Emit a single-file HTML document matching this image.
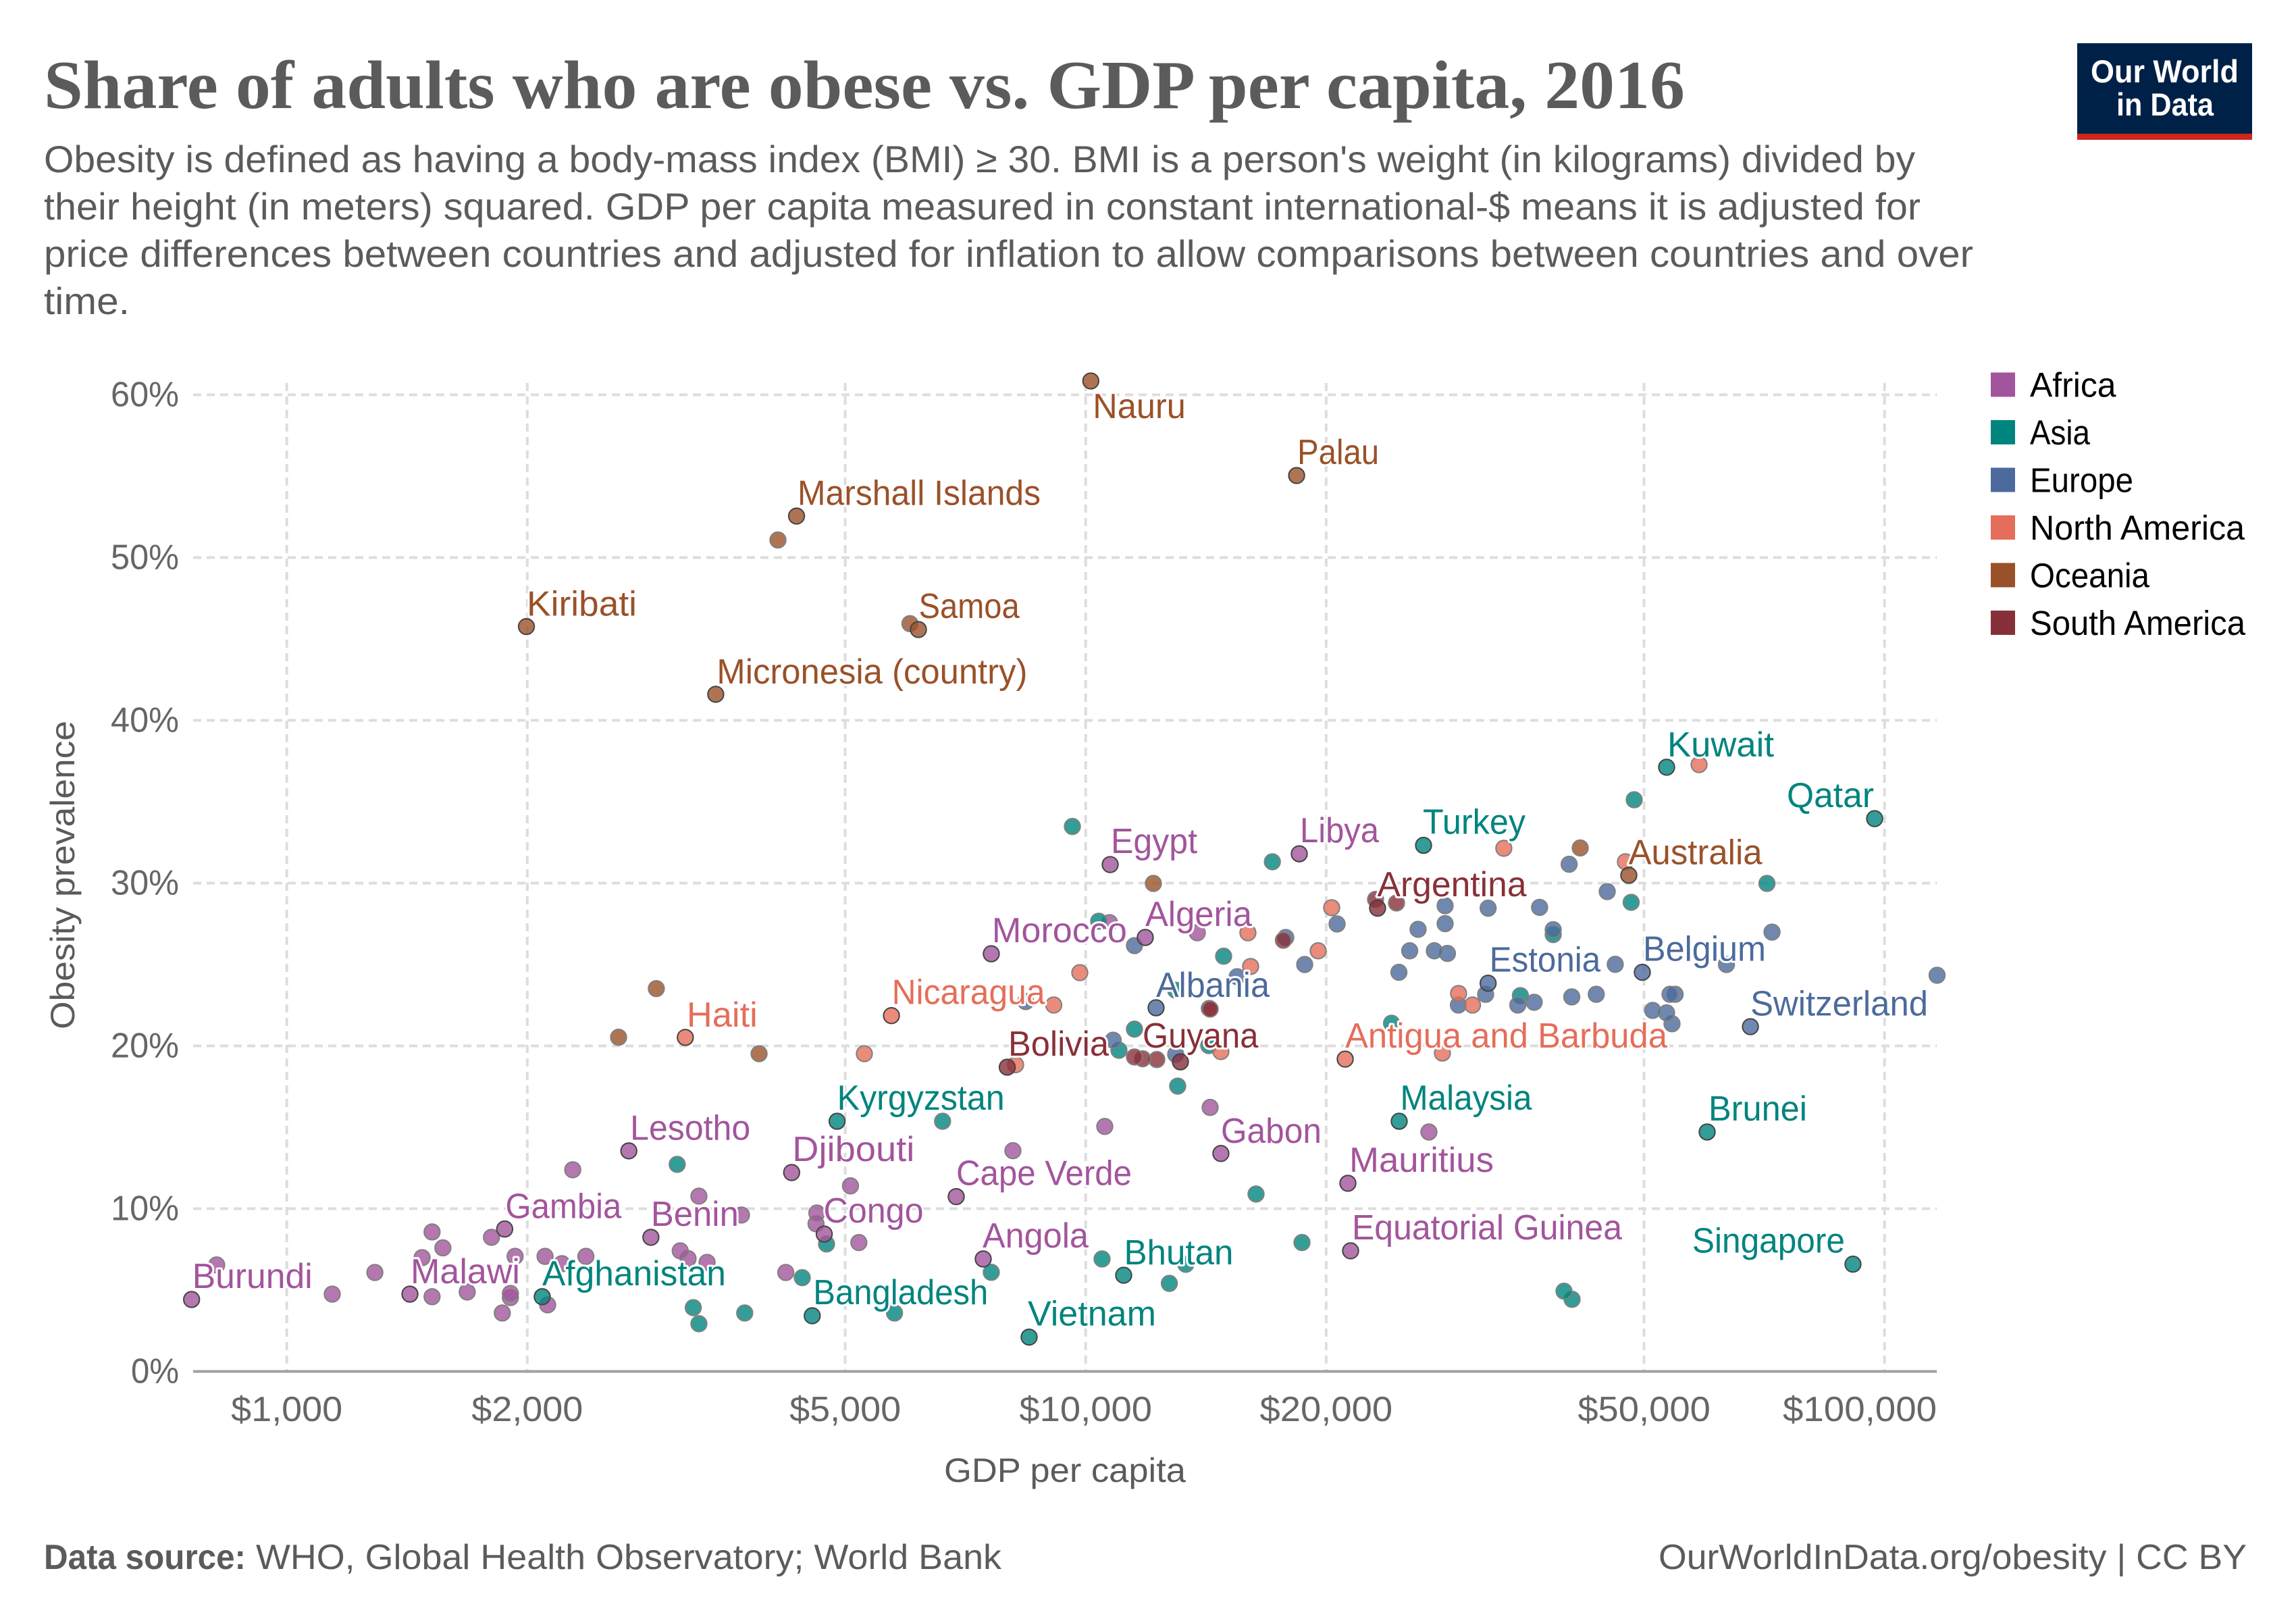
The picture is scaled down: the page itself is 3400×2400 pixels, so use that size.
<!DOCTYPE html>
<html lang="en">
<head>
<meta charset="utf-8">
<title>Share of adults who are obese vs. GDP per capita, 2016</title>
<style>
html,body{margin:0;padding:0;background:#fff;}
svg{display:block;}
text{font-family:"Liberation Sans",sans-serif;}
.title{font-family:"Liberation Serif",serif;font-weight:700;font-size:102px;fill:#5b5b5b;}
.sub{font-size:56px;fill:#5b5b5b;}
.foot{font-size:52px;fill:#5b5b5b;}
.axis-title{font-size:50px;fill:#5b5b5b;}
.tick{font-size:52px;fill:#666;}
.legend-text{font-size:51px;fill:#000;}
.label{font-size:52px;stroke:#fff;stroke-width:6px;paint-order:stroke;stroke-linejoin:round;}
</style>
</head>
<body>
<svg id="chart" xmlns="http://www.w3.org/2000/svg" width="3400" height="2400" viewBox="0 0 3400 2400">
  <rect x="0" y="0" width="3400" height="2400" fill="#fff"/>
  <text class="title" x="65" y="160" textLength="2430" lengthAdjust="spacingAndGlyphs">Share of adults who are obese vs. GDP per capita, 2016</text>
  <g>
    <text class="sub" x="65" y="255" textLength="2771" lengthAdjust="spacingAndGlyphs">Obesity is defined as having a body-mass index (BMI) ≥ 30. BMI is a person's weight (in kilograms) divided by</text>
    <text class="sub" x="65" y="325" textLength="2779" lengthAdjust="spacingAndGlyphs">their height (in meters) squared. GDP per capita measured in constant international-$ means it is adjusted for</text>
    <text class="sub" x="65" y="395" textLength="2857" lengthAdjust="spacingAndGlyphs">price differences between countries and adjusted for inflation to allow comparisons between countries and over</text>
    <text class="sub" x="65" y="465" textLength="127" lengthAdjust="spacingAndGlyphs">time.</text>
  </g>
  <g>
    <rect x="3076" y="64" width="259" height="134" fill="#002147"/>
    <rect x="3076" y="198" width="259" height="9" fill="#ce261e"/>
    <text x="3096" y="122" textLength="219" lengthAdjust="spacingAndGlyphs" font-size="47" font-weight="700" fill="#fff">Our World</text>
    <text x="3134" y="171" textLength="144" lengthAdjust="spacingAndGlyphs" font-size="47" font-weight="700" fill="#fff">in Data</text>
  </g>
  <g id="grid"></g>
  <g id="axes"></g>
  <text class="axis-title" x="1398" y="2194" textLength="358" lengthAdjust="spacingAndGlyphs">GDP per capita</text>
  <text class="axis-title" transform="translate(110,1524) rotate(-90)" textLength="457" lengthAdjust="spacingAndGlyphs">Obesity prevalence</text>
  <g id="points"></g>
  <g id="labels"></g>
  <g id="legend"></g>
  <g>
    <text class="foot" x="65" y="2323" textLength="299" lengthAdjust="spacingAndGlyphs" font-weight="700">Data source:</text>
    <text class="foot" x="379" y="2323" textLength="1104" lengthAdjust="spacingAndGlyphs">WHO, Global Health Observatory; World Bank</text>
    <text class="foot" x="2456" y="2323" textLength="871" lengthAdjust="spacingAndGlyphs">OurWorldInData.org/obesity | CC BY</text>
  </g>
</svg>
<script>
// ---- axis tick data ----
const yTickValues = [0, 10, 20, 30, 40, 50, 60];
const xTickValues = [1000, 2000, 5000, 10000, 20000, 50000, 100000];
const xTickLabels = ['$1,000', '$2,000', '$5,000', '$10,000', '$20,000', '$50,000', '$100,000'];

// ---- legend ----
const regionNames = ['Africa', 'Asia', 'Europe', 'North America', 'Oceania', 'South America'];
const regionColors = ['#A2559C', '#00847E', '#4C6A9C', '#E56E5A', '#9A5129', '#883039'];

// ---- series: GDP per capita ($) and obesity (%). Labelled countries come first, in the order of the names array ----
const africaNames = ['Burundi','Malawi','Gambia','Lesotho','Benin','Djibouti','Congo','Cape Verde','Angola','Gabon','Mauritius','Equatorial Guinea','Egypt','Libya','Algeria','Morocco'];
const africaGdp = [760,1426,1874,2680,2856,4285,4707,6886,7443,14766,21294,21459,10732,18509,11874,7618,
  817,1140,1289,1520,1477,1520,1568,1682,1804,1861,1905,1905,1931,2105,2121,2210,2368,2280,3280,3708,3108,3179,3358,4213,5077,4608,4597,5201,8108,10566,14315,26895,13795,10711];
const africaObesity = [4.42,4.75,8.75,13.55,8.24,12.22,8.44,10.74,6.91,13.39,11.56,7.41,31.14,31.80,26.66,25.66,
  6.54,4.75,6.08,4.59,6.99,8.57,7.59,4.88,8.24,3.59,4.79,4.54,7.07,7.07,4.09,6.62,7.07,12.39,10.77,9.61,7.41,6.93,6.70,6.08,11.40,9.73,9.07,7.92,13.56,15.05,16.22,14.71,26.95,27.57];

const asiaNames = ['Afghanistan','Kyrgyzstan','Bangladesh','Vietnam','Bhutan','Malaysia','Brunei','Singapore','Turkey','Kuwait','Qatar'];
const asiaGdp = [2088,4885,4547,8496,11157,24686,59970,91300,26481,53360,97180,
  3081,3227,3280,3743,4418,6620,4738,5764,7618,10484,12727,13345,16340,18654,39697,40635,13037,9624,17128,10383,14883,11510,11007,24148,48600,71250,48175,38480,35008,12961,14260];
const asiaObesity = [4.59,15.37,3.42,2.11,5.91,15.37,14.71,6.59,32.32,37.12,33.96,
  12.72,3.92,2.93,3.59,5.76,15.37,7.83,3.59,6.09,6.91,5.41,6.58,10.90,7.92,4.93,4.43,17.53,33.48,31.31,27.66,25.51,21.03,19.73,21.39,35.12,29.98,28.82,26.84,23.09,23.42,20.02];

const europeNames = ['Albania','Belgium','Switzerland','Estonia'];
const europeGdp = [12250,49750,67935,31900,
  11510,17802,20640,18800,10827,12962,15473,28180,31900,37000,28180,26067,38480,72300,25446,27316,28370,24666,46015,63400,116350,31670,29280,34746,36426,40596,43564,53880,54685,51260,53360,54195,40288,44964,8413];
const europeObesity = [22.34,24.52,21.18,23.85,
  26.16,26.66,27.49,25.00,20.35,19.48,24.25,28.61,28.46,28.51,27.51,27.16,27.14,26.99,25.84,25.84,25.68,24.52,25.01,25.00,24.34,23.17,22.51,22.51,22.68,23.01,23.17,23.17,23.17,22.18,22.03,21.36,31.16,29.48,22.72];

const northAmericaNames = ['Haiti','Nicaragua','Antigua and Barbuda'];
const northAmericaGdp = [3154,5713,21128,
  5284,9121,9832,8171,14766,16087,15962,19545,20320,27960,29295,30495,33375,47385,58590];
const northAmericaObesity = [20.52,21.86,19.19,
  19.52,22.51,24.50,18.84,19.65,24.88,26.95,25.84,28.49,19.56,23.22,22.51,32.14,31.31,37.28];

const oceaniaNames = ['Nauru','Palau','Marshall Islands','Kiribati','Samoa','Micronesia (country)','Australia'];
const oceaniaGdp = [10149,18368,4346,1995,6175,3443,47850,
  4119,6026,12155,41596,2901,2602,3901];
const oceaniaObesity = [60.85,55.04,52.55,45.76,45.58,41.60,30.48,
  51.08,45.94,29.98,32.16,23.52,20.53,19.52];

const southAmericaNames = ['Argentina','Bolivia','Guyana'];
const southAmericaGdp = [23195,7977,13140,
  17678,23060,24496,14315,14280,11510,11784,12276];
const southAmericaObesity = [28.46,18.69,19.02,
  26.49,29.00,28.78,22.26,22.30,19.32,19.21,19.16];

// ---- label placement relative to a country's dot: [dx, dy, rendered width] ----
const labelLayout = {
  'Burundi':[3,-17,176],'Malawi':[3,-16,160],'Gambia':[3,-16,170],'Lesotho':[4,-16.5,176],'Benin':[2,-17,128],
  'Djibouti':[3,-17,179],'Congo':[1,-17,146],'Cape Verde':[2,-17,258],'Angola':[1,-17,155],'Gabon':[2,-16,147],
  'Mauritius':[4,-17,212],'Equatorial Guinea':[4,-17,398],'Egypt':[3,-17,126],'Libya':[3,-17,115],'Algeria':[2,-17,156],
  'Morocco':[3,-17,198],'Afghanistan':[2,-17,270],'Kyrgyzstan':[2,-17,246],'Bangladesh':[3.5,-17,257],'Vietnam':[0,-17,188],
  'Bhutan':[2.5,-16,160],'Malaysia':[3.5,-17,193],'Brunei':[4,-17,144],'Singapore':[-236,-17,224],'Turkey':[1,-17,150],
  'Kuwait':[3,-16,156],'Qatar':[-128,-17,127],'Albania':[2,-16,166],'Belgium':[3,-17,180],'Switzerland':[2,-16.5,261],
  'Estonia':[4,-17,162.5],'Haiti':[4,-16,103],'Nicaragua':[2.5,-17,225],'Antigua and Barbuda':[2,-17,475],'Nauru':[5,55,135.5],
  'Palau':[3,-17,119],'Marshall Islands':[3.5,-16.6,358],'Kiribati':[2.5,-16,161],'Samoa':[2.6,-17,147],
  'Micronesia (country)':[3.5,-16,458],'Australia':[1.6,-16.4,196],'Argentina':[1.6,-17.7,219],'Bolivia':[3.4,-17,147],'Guyana':[-54,-21,169.5]
};
const labelBearing = 2;

const regionSeries = [
  [africaNames, africaGdp, africaObesity],
  [asiaNames, asiaGdp, asiaObesity],
  [europeNames, europeGdp, europeObesity],
  [northAmericaNames, northAmericaGdp, northAmericaObesity],
  [oceaniaNames, oceaniaGdp, oceaniaObesity],
  [southAmericaNames, southAmericaGdp, southAmericaObesity]
];

// ---- axis functions ----
const plotLeft = 286, plotRight = 2868, plotBottom = 2030.5, gridTop = 567;
function xScale(gdp) { return 424.7 + 1183 * Math.log10(gdp / 1000); }
function yScale(pct) { return plotBottom - 24.1 * pct; }

const NS = 'http://www.w3.org/2000/svg';
function make(tag, attrs, parent) {
  const node = document.createElementNS(NS, tag);
  for (const k in attrs) node.setAttribute(k, attrs[k]);
  parent.appendChild(node);
  return node;
}
const slug = s => s.toLowerCase().replace(/[^a-z0-9]+/g, '-').replace(/^-|-$/g, '');

const gridG = document.getElementById('grid');
const axesG = document.getElementById('axes');
const pointsG = document.getElementById('points');
const labelsG = document.getElementById('labels');
const legendG = document.getElementById('legend');

// vertical grid + x tick labels (centred on the tick, clamped to the plot's right edge)
xTickValues.forEach((v, i) => {
  const x = xScale(v);
  const line = make('line', {x1: x, x2: x, y1: gridTop, y2: plotBottom, stroke: '#ddd', 'stroke-width': 4, 'stroke-dasharray': '12 8'}, gridG);
  
  
  const str = xTickLabels[i];
  const w = 165 + (str.length - 6) * 31.5;
  const left = Math.min(x + w / 2, plotRight) - w;
  const t = make('text', {class: 'tick', x: left, y: 2104, textLength: w, lengthAdjust: 'spacingAndGlyphs'}, axesG);
  t.textContent = str;
  
  
});

// horizontal grid + y tick labels
yTickValues.forEach(v => {
  const y = yScale(v);
  if (v > 0) {
    const line = make('line', {x1: plotLeft, x2: plotRight, y1: y, y2: y, stroke: '#ddd', 'stroke-width': 4, 'stroke-dasharray': '12 8'}, gridG);
    
    
  }
  const w = v === 0 ? 71 : 101;
  const t = make('text', {class: 'tick', x: 265 - w, y: y + 17, textLength: w, lengthAdjust: 'spacingAndGlyphs'}, axesG);
  t.textContent = v + '%';
  
  
});

const baseLine = make('line', {x1: plotLeft, x2: plotRight, y1: plotBottom, y2: plotBottom, stroke: '#a1a1a1', 'stroke-width': 4}, axesG);



// points: unlabelled first, labelled after so their dark outlines sit on top
regionSeries.forEach((series, r) => {
  const names = series[0], gdp = series[1], ob = series[2];
  for (let i = gdp.length - 1; i >= names.length; i--) {
    const c = make('circle', {cx: xScale(gdp[i]), cy: yScale(ob[i]), r: 11.7, fill: regionColors[r], 'fill-opacity': 0.8, stroke: '#808080', 'stroke-width': 2}, pointsG);
    
    
  }
});
regionSeries.forEach((series, r) => {
  const names = series[0], gdp = series[1], ob = series[2];
  names.forEach((name, i) => {
    const cx = xScale(gdp[i]), cy = yScale(ob[i]);
    const c = make('circle', {cx: cx, cy: cy, r: 11.7, fill: regionColors[r], 'fill-opacity': 0.8, stroke: '#444', 'stroke-width': 2}, pointsG);
    
    
    const lay = labelLayout[name];
    const t = make('text', {class: 'label', x: cx + lay[0] - labelBearing, y: cy + lay[1], fill: regionColors[r], textLength: lay[2] + labelBearing, lengthAdjust: 'spacingAndGlyphs'}, labelsG);
    t.textContent = name;
    
    
  });
});

// legend
const legendWidths = [127.5, 89, 153, 318, 177, 319];
regionNames.forEach((name, i) => {
  const g = make('g', {}, legendG);
  
  
  const y = 551.5 + i * 70.5;
  const sw = make('rect', {x: 2948, y: y, width: 36, height: 36, fill: regionColors[i]}, g);
  
  
  const t = make('text', {class: 'legend-text', x: 3006, y: y + 36, textLength: legendWidths[i], lengthAdjust: 'spacingAndGlyphs'}, g);
  t.textContent = name;
  
  
});
</script>
</body>
</html>
